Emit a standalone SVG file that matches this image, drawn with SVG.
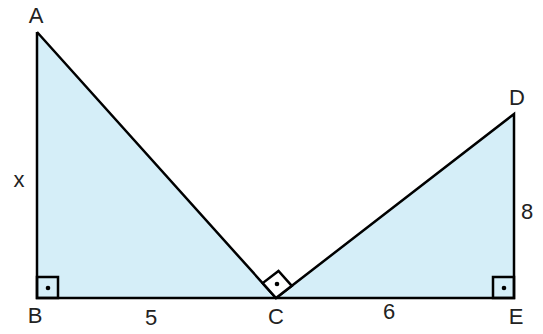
<svg xmlns="http://www.w3.org/2000/svg" width="543" height="334" viewBox="0 0 543 334">
<style>
.tri{fill:#d5eef8;stroke:none}
.edge{fill:none;stroke:#000;stroke-width:2.5;stroke-linejoin:miter}
.box{fill:#fff;stroke:#000;stroke-width:2.5}
.boxb{fill:none;stroke:#000;stroke-width:2.5}
.dot{fill:#000}
text{font-family:"Liberation Sans",Arial,sans-serif;font-size:22px;fill:#222;text-anchor:middle}
</style>
<g id="fill">
<polygon class="tri" points="37,32 37,298 276,298"/>
<polygon class="tri" points="276,298 514,298 514,114"/>
</g>
<g id="connectors">
<polyline class="edge" points="37,32 37,298 514,298 514,114 276,298 37,32"/>
</g>
<g id="angleB">
<rect class="boxb" x="37" y="277" width="21" height="21"/>
<circle class="dot" cx="48" cy="288" r="2.3"/>
</g>
<g id="angleC">
<polygon class="box" points="276,298 262.7,283.1 278.5,270.9 291.8,285.8"/>
<circle class="dot" cx="277" cy="284" r="2.3"/>
</g>
<g id="angleE">
<rect class="boxb" x="493" y="277" width="21" height="21"/>
<circle class="dot" cx="504" cy="288" r="2.3"/>
</g>
<g id="nodeA"><text x="36" y="23">A</text></g>
<g id="nodeB"><text x="35" y="323">B</text></g>
<g id="nodeC"><text x="276" y="324">C</text></g>
<g id="nodeD"><text x="517" y="105">D</text></g>
<g id="nodeE"><text x="516" y="324">E</text></g>
<g id="labels">
<text x="19" y="187">x</text>
<text x="527" y="219">8</text>
<text x="151" y="325">5</text>
<text x="389" y="319">6</text>
</g>
</svg>
